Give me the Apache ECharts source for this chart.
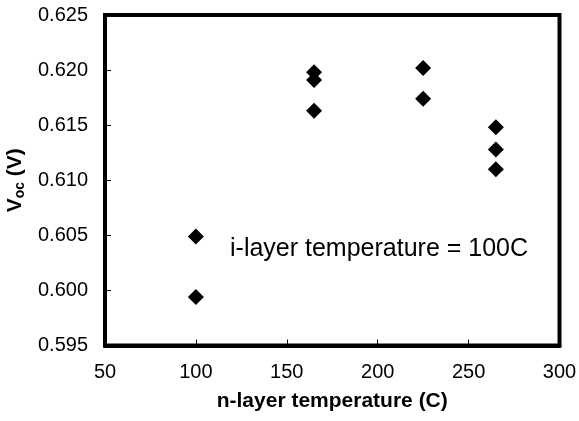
<!DOCTYPE html>
<html>
<head>
<meta charset="utf-8">
<script src="https://cdn.jsdelivr.net/npm/echarts@6/dist/echarts.min.js"></script>
<style>
  html, body { margin: 0; padding: 0; background: #fff; }
  #chart { width: 579px; height: 421px; }
</style>
</head>
<body>
<div id="chart"></div>
<script>
// n-layer temperature (C) and Voc (V)
const nLayerTemp = [100, 100, 165, 165, 165, 225, 225, 265, 265, 265];
const vocValues = [0.6049, 0.5994, 0.6198, 0.6191, 0.6163, 0.6202, 0.6174, 0.6148, 0.6128, 0.6110];
const xTicks = [50, 100, 150, 200, 250, 300];
const yTicks = [0.595, 0.600, 0.605, 0.610, 0.615, 0.620, 0.625];

const points = nLayerTemp.map((t, i) => [t, vocValues[i]]);

var dom = document.getElementById('chart');
var myChart = echarts.init(dom, null, { renderer: 'canvas' });

var option = {
  animation: false,
  grid: {
    left: 105,
    top: 15,
    right: 19.5,
    bottom: 75.5,
    outerBoundsMode: 'none',
    containLabel: false,
    show: true,
    borderColor: '#000',
    borderWidth: 4,
    backgroundColor: '#fff'
  },
  xAxis: {
    type: 'value',
    min: xTicks[0],
    max: xTicks[xTicks.length - 1],
    interval: 50,
    name: 'n-layer temperature (C)',
    nameLocation: 'middle',
    nameGap: 45,
    nameTextStyle: { fontFamily: 'Liberation Sans', fontWeight: 'bold', fontSize: 21, color: '#000' },
    axisLine: { show: true, onZero: false, lineStyle: { color: '#000', width: 4 } },
    axisTick: { show: true, inside: true, length: 6, lineStyle: { color: '#000', width: 1 } },
    axisLabel: { fontFamily: 'Liberation Sans', fontSize: 20, color: '#000', margin: 17 },
    splitLine: { show: false }
  },
  yAxis: {
    type: 'value',
    min: yTicks[0],
    max: yTicks[yTicks.length - 1],
    interval: 0.005,
    name: '{v|V}{s|oc}{v| (V)}',
    nameLocation: 'middle',
    nameGap: 75,
    nameRotate: 90,
    nameTextStyle: {
      rich: {
        v: { fontFamily: 'Liberation Sans', fontWeight: 'bold', fontSize: 21, color: '#000' },
        s: { fontFamily: 'Liberation Sans', fontWeight: 'bold', fontSize: 14, color: '#000', padding: [10, 0, 0, 0] }
      }
    },
    axisLine: { show: true, onZero: false, lineStyle: { color: '#000', width: 4 } },
    axisTick: { show: true, inside: true, length: 6, lineStyle: { color: '#000', width: 1 } },
    axisLabel: {
      fontFamily: 'Liberation Sans', fontSize: 20, color: '#000', margin: 17,
      formatter: v => v.toFixed(3)
    },
    splitLine: { show: false }
  },
  graphic: [
    {
      type: 'text',
      left: 230,
      top: 237,
      style: {
        text: 'i-layer temperature = 100C',
        fontFamily: 'Liberation Sans',
        fontSize: 25,
        fill: '#000'
      }
    }
  ],
  series: [
    {
      type: 'scatter',
      data: points,
      symbol: 'diamond',
      symbolSize: [16, 16],
      itemStyle: { color: '#000', opacity: 1 }
    }
  ]
};

myChart.setOption(option);
window.addEventListener('resize', myChart.resize);
</script>
</body>
</html>
